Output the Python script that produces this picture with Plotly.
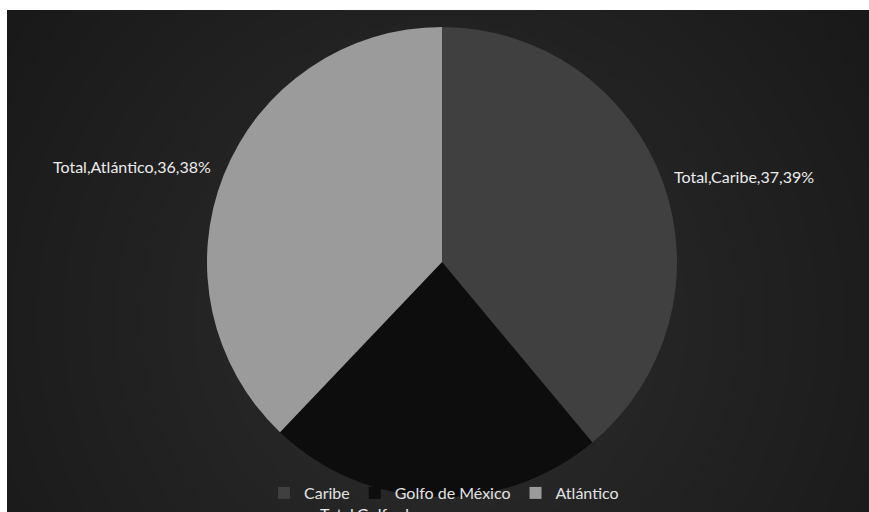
import numpy as np
import plotly.graph_objects as go

# Data
categories = ["Caribe", "Golfo de México", "Atlántico"]
values = [37, 22, 36]
slice_colors = ["#404040", "#0d0d0d", "#9b9b9b"]

W, H = 869, 512
ML, MT = 7, 10
PW, PH = W - ML, H - MT

# pie geometry in pixels (page coordinates)
cx, cy, r = 442, 262, 235

def fx(px):
    return (px - ML) / PW

def fy(py):
    return 1 - (py - MT) / PH

fig = go.Figure()

# radial dark background
gx = np.linspace(0, 1, 90)
gy = np.linspace(0, 1, 60)
X, Y = np.meshgrid(gx, gy)
dx = (X - fx(440)) * PW
dy = (Y - fy(320)) * PH
d = np.sqrt(dx ** 2 + dy ** 2) / 520
Z = np.clip(1 - d, 0, 1)
fig.add_trace(go.Heatmap(
    x=gx, y=gy, z=Z, zsmooth="best", showscale=False, hoverinfo="skip",
    colorscale=[[0, "#191919"], [1, "#2d2d2d"]], zmin=0, zmax=1,
))

fig.add_trace(go.Pie(
    labels=categories, values=values, sort=False, direction="clockwise",
    rotation=0, marker=dict(colors=slice_colors, line=dict(width=0)),
    textinfo="none", hoverinfo="label+value+percent",
    domain=dict(x=[fx(cx - r), fx(cx + r)], y=[fy(cy + r), fy(cy - r)]),
))

total = sum(values)
pcts = [round(v * 100 / total) for v in values]
labels = [f"Total,{c},{v},{p}%" for c, v, p in zip(categories, values, pcts)]

# label anchor points (page pixels)
label_pos = {
    "Caribe": (672, 177, "left", "middle"),
    "Golfo de México": (318, 502, "left", "top"),
    "Atlántico": (51, 167, "left", "middle"),
}
annotations = []
for c, txt in zip(categories, labels):
    px, py, xa, ya = label_pos[c]
    if c == "Golfo de México":
        txt = txt.replace("de México", "de<br>México")
    annotations.append(dict(
        x=fx(px), y=fy(py), xref="paper", yref="paper", text=txt,
        showarrow=False, xanchor=xa, yanchor=ya, align="left",
        font=dict(family="Lato", size=16, color="#ececec"),
    ))

fig.update_layout(
    width=W, height=H,
    margin=dict(l=ML, r=0, t=MT, b=0),
    paper_bgcolor="white", plot_bgcolor="#222222",
    xaxis=dict(visible=False, range=[0, 1], fixedrange=True),
    yaxis=dict(visible=False, range=[0, 1], fixedrange=True),
    showlegend=True,
    legend=dict(
        orientation="h", x=fx(444), xanchor="center", y=fy(493), yanchor="middle",
        bgcolor="rgba(0,0,0,0)", font=dict(family="Lato", size=16, color="#e2e2e2"),
        itemwidth=30,
    ),
    annotations=annotations,
)

fig.write_html("out.html")
